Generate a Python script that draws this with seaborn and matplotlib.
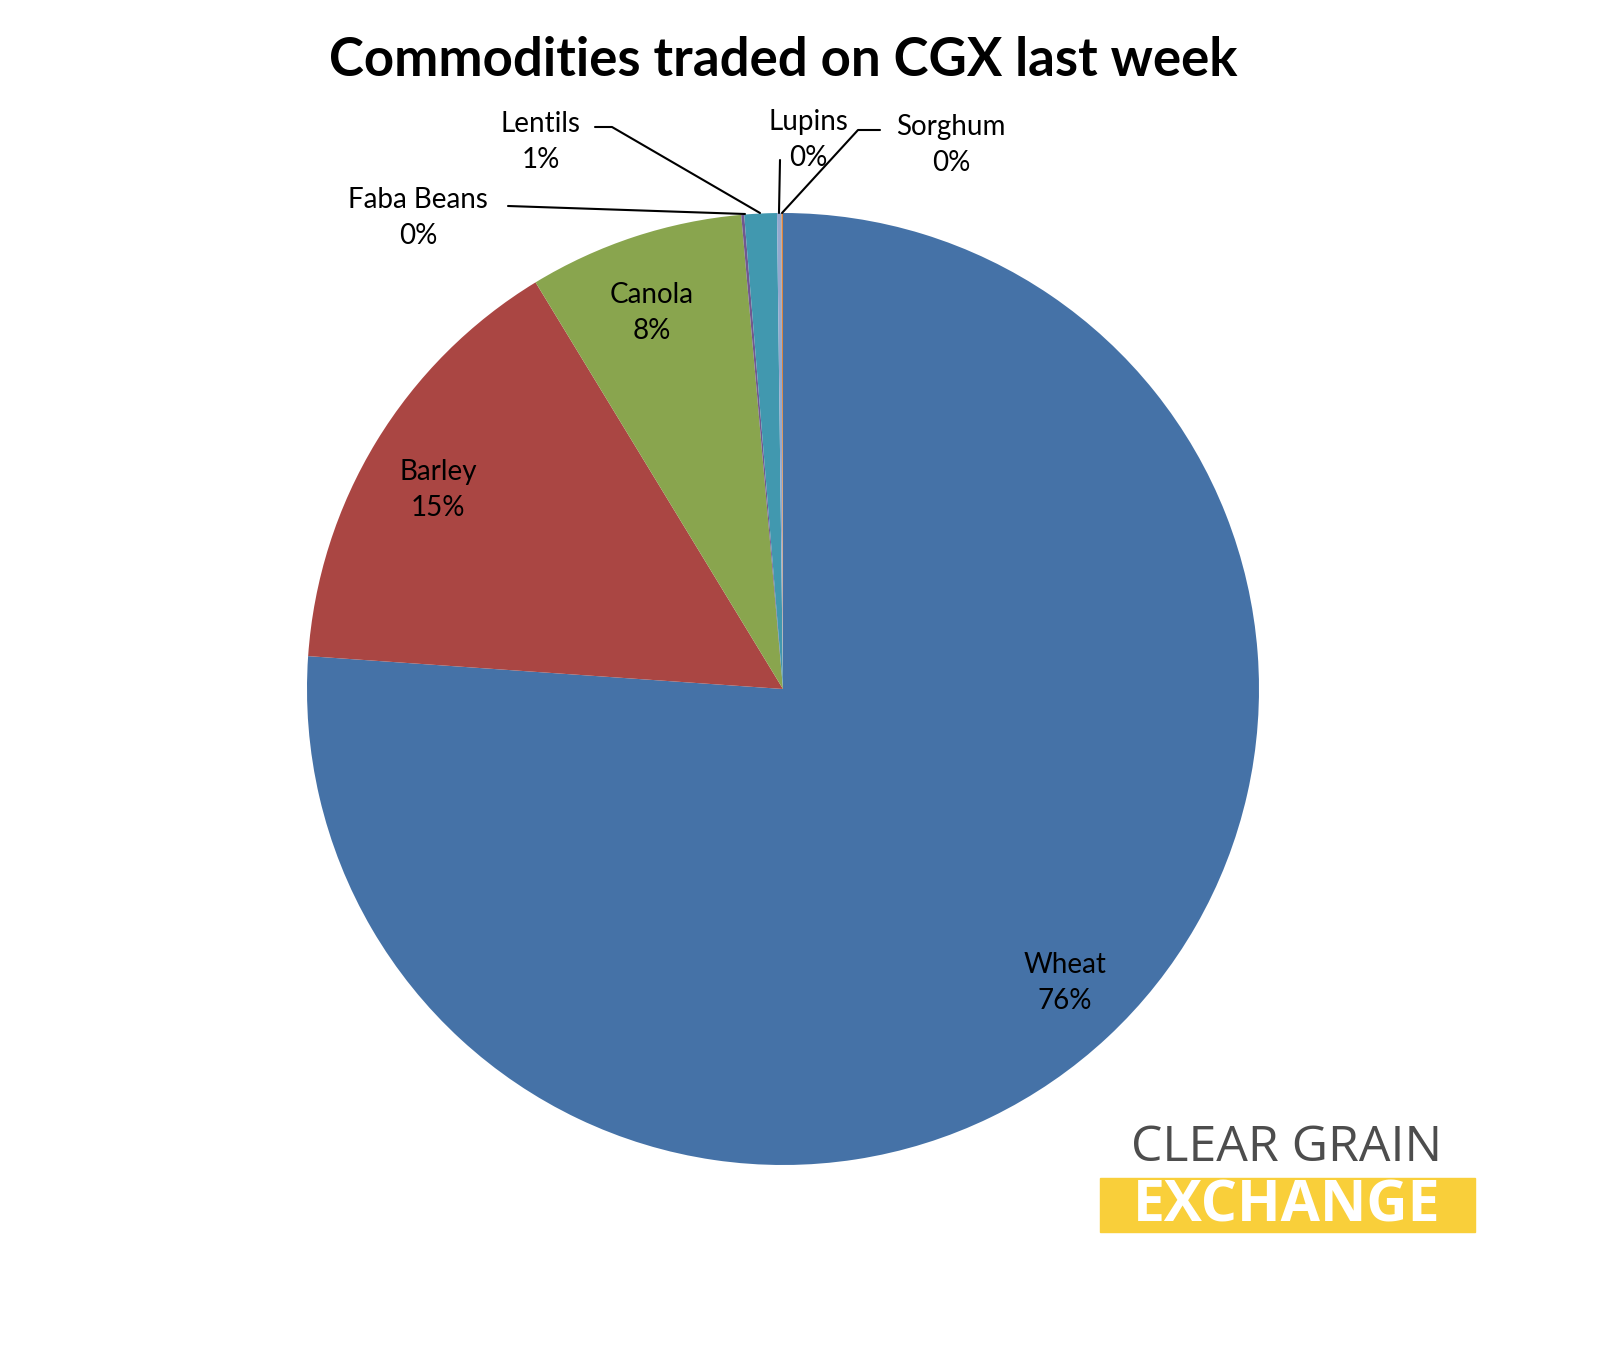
import matplotlib
matplotlib.use("Agg")
import matplotlib.pyplot as plt
import seaborn as sns
from matplotlib.patches import Rectangle

sns.set_style("white")
plt.rcParams['font.family'] = ['Lato', 'DejaVu Sans']
plt.rcParams['text.color'] = 'black'

categories = ["Wheat", "Barley", "Canola", "Faba Beans", "Lentils", "Lupins", "Sorghum"]
values = [76.1, 15.2, 7.3, 0.1, 1.1, 0.15, 0.05]
pct_labels = ["76%", "15%", "8%", "0%", "1%", "0%", "0%"]
colors = ["#4572A7", "#AA4643", "#89A54E", "#71588F", "#4198AF", "#93A9CF", "#DB843D"]

W, H = 1608, 1350
cx, cy, R = 783, 689, 476
fig = plt.figure(figsize=(W/100, H/100), dpi=100)
ax = fig.add_axes([0, 0, 1, 1])
ax.pie(values, colors=colors, startangle=90, counterclock=False, radius=1.0,
       wedgeprops=dict(linewidth=0))
ax.set_xlim(-cx/R, (W-cx)/R)
ax.set_ylim(-(H-cy)/R, cy/R)
ax.set_aspect('auto')
ax.axis('off')

def d(px, py):
    return ((px-cx)/R, (cy-py)/R)

fs = 20
for i, pos in [(0, (1065, 983)), (1, (438, 490)), (2, (652, 313))]:
    ax.text(*d(*pos), f"{categories[i]}\n{pct_labels[i]}", ha='center', va='center',
            fontsize=fs, linespacing=1.5, color='black')
outs = {3: ((418, 218), [(508, 206), (745, 214)]),
        4: ((541, 142), [(595, 127), (612, 127), (760, 213)]),
        5: ((808, 140), [(780, 160), (779, 213)]),
        6: ((951, 145), [(880, 130), (858, 130), (782, 213)])}
for i, (pos, line) in outs.items():
    ax.text(*d(*pos), f"{categories[i]}\n{pct_labels[i]}", ha='center', va='center',
            fontsize=fs, linespacing=1.5, color='black')
    xs, ys = zip(*[d(*p) for p in line])
    ax.plot(xs, ys, color='black', lw=1.5)

fig.text(783/W, 1-60/H, "Commodities traded on CGX last week", ha='center', va='center',
         fontsize=38, fontweight='bold', color='black')

fig.text(1287/W, 1-1148/H, "CLEAR GRAIN", ha='center', va='center', fontsize=36,
         color='#4d4d4d', family=['Open Sans', 'DejaVu Sans'])
fig.patches.append(Rectangle((1100/W, 1-1232/H), 375/W, 54/H, transform=fig.transFigure,
                             color='#F9CF3A', zorder=1))
fig.text(1287/W, 1-1207/H, "EXCHANGE", ha='center', va='center', fontsize=41,
         fontweight='bold', color='white', family=['Open Sans', 'DejaVu Sans'], zorder=2)

fig.savefig("out.png", dpi=100)
